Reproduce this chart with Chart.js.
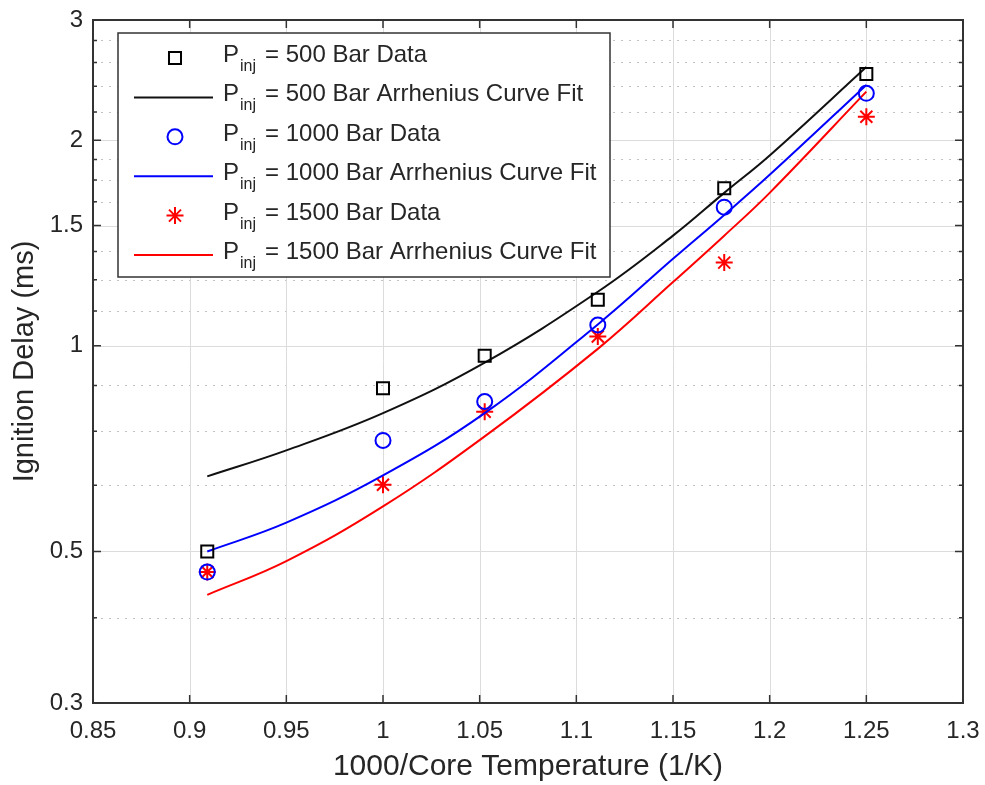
<!DOCTYPE html>
<html>
<head>
<meta charset="utf-8">
<script src="https://cdn.jsdelivr.net/npm/chart.js@4.4.0/dist/chart.umd.min.js"></script>
<style>
    html, body { margin: 0; padding: 0; background: #fff; }
    #wrap { width: 985px; height: 785px; }
</style>
</head>
<body>
<div id="wrap"><canvas id="myChart" width="985" height="785"></canvas></div>
<script>
// measured data (x = 1000/T)
var dataX = [0.9091, 1.0, 1.0526, 1.1111, 1.1765, 1.25];
var data500 = [0.500, 0.867, 0.967, 1.168, 1.701, 2.50];
var data1000 = [0.4665, 0.727, 0.829, 1.073, 1.596, 2.343];
var data1500 = [0.4665, 0.626, 0.801, 1.032, 1.324, 2.165];

// curve fits
var fitX = [0.9091, 0.95, 1.0, 1.0526, 1.1111, 1.15, 1.1765, 1.2, 1.25];
var fit500 = [0.644, 0.703, 0.797, 0.945, 1.20, 1.45, 1.675, 1.90, 2.56];
var fit1000 = [0.500, 0.551, 0.646, 0.797, 1.075, 1.341, 1.555, 1.78, 2.41];
var fit1500 = [0.432, 0.484, 0.582, 0.737, 0.990, 1.24, 1.45, 1.675, 2.356];

// axes
var xTicks = [0.85, 0.9, 0.95, 1.0, 1.05, 1.1, 1.15, 1.2, 1.25, 1.3];
var xTickLabels = ['0.85', '0.9', '0.95', '1', '1.05', '1.1', '1.15', '1.2', '1.25', '1.3'];
var yTicks = [0.3, 0.5, 1, 1.5, 2, 3];
var yTickLabels = ['0.3', '0.5', '1', '1.5', '2', '3'];
var yMinorTicks = [0.4, 0.625, 0.75, 0.875, 1.125, 1.25, 1.375, 1.625, 1.75, 1.875, 2.2, 2.4, 2.6, 2.8];

var legendLabels = [
    '= 500 Bar Data',
    '= 500 Bar Arrhenius Curve Fit',
    '= 1000 Bar Data',
    '= 1000 Bar Arrhenius Curve Fit',
    '= 1500 Bar Data',
    '= 1500 Bar Arrhenius Curve Fit'
];

var FONT = '"Liberation Sans", Arial, Helvetica, sans-serif';
var TEXT = '#262626';

function pts(xs, ys) {
    return xs.map(function(x, i) { return { x: x, y: ys[i] }; });
}

// grid, frame and inward ticks
var framePlugin = {
    id: 'frame',
    beforeDatasetsDraw: function(chart) {
        var ctx = chart.ctx, a = chart.chartArea;
        var xs = chart.scales.x, ys = chart.scales.y;
        ctx.save();
        ctx.lineWidth = 1;
        // minor dotted
        ctx.strokeStyle = '#c0c0c0';
        ctx.setLineDash([2, 6]);
        yMinorTicks.forEach(function(v) {
            var y = Math.round(ys.getPixelForValue(v)) + 0.5;
            ctx.beginPath(); ctx.moveTo(a.left, y); ctx.lineTo(a.right, y); ctx.stroke();
        });
        // major solid
        ctx.setLineDash([]);
        ctx.strokeStyle = '#dcdcdc';
        yTicks.forEach(function(v) {
            var y = Math.round(ys.getPixelForValue(v)) + 0.5;
            ctx.beginPath(); ctx.moveTo(a.left, y); ctx.lineTo(a.right, y); ctx.stroke();
        });
        xTicks.forEach(function(v) {
            var x = Math.round(xs.getPixelForValue(v)) + 0.5;
            ctx.beginPath(); ctx.moveTo(x, a.top); ctx.lineTo(x, a.bottom); ctx.stroke();
        });
        ctx.restore();
    },
    afterDatasetsDraw: function(chart) {
        var ctx = chart.ctx, a = chart.chartArea;
        var xs = chart.scales.x, ys = chart.scales.y;
        ctx.save();
        ctx.strokeStyle = '#333';
        ctx.lineWidth = 2;
        ctx.strokeRect(a.left, a.top, a.right - a.left, a.bottom - a.top);
        ctx.lineWidth = 1.5;
        ctx.beginPath();
        xTicks.forEach(function(v) {
            var x = xs.getPixelForValue(v);
            ctx.moveTo(x, a.bottom); ctx.lineTo(x, a.bottom - 8);
            ctx.moveTo(x, a.top); ctx.lineTo(x, a.top + 8);
        });
        yTicks.forEach(function(v) {
            var y = ys.getPixelForValue(v);
            ctx.moveTo(a.left, y); ctx.lineTo(a.left + 8, y);
            ctx.moveTo(a.right, y); ctx.lineTo(a.right - 8, y);
        });
        yMinorTicks.forEach(function(v) {
            var y = ys.getPixelForValue(v);
            ctx.moveTo(a.left, y); ctx.lineTo(a.left + 4, y);
            ctx.moveTo(a.right, y); ctx.lineTo(a.right - 4, y);
        });
        ctx.stroke();
        ctx.restore();
    }
};

// legend with subscripts
var legendPlugin = {
    id: 'pinjLegend',
    afterDraw: function(chart) {
        var ctx = chart.ctx;
        var box = { x: 118, y: 33, w: 492, h: 244 };
        ctx.save();
        ctx.fillStyle = '#fff';
        ctx.fillRect(box.x, box.y, box.w, box.h);
        ctx.strokeStyle = '#333';
        ctx.lineWidth = 1.5;
        ctx.strokeRect(box.x, box.y, box.w, box.h);

        chart.data.datasets.forEach(function(ds, i) {
            var rowY = 58 + i * 39.4;
            ctx.strokeStyle = ds.borderColor;
            if (ds.showLine) {
                ctx.lineWidth = ds.borderWidth;
                ctx.beginPath(); ctx.moveTo(134, rowY); ctx.lineTo(213, rowY); ctx.stroke();
            } else {
                ctx.fillStyle = 'rgba(0,0,0,0)';
                ctx.lineWidth = ds.pointBorderWidth;
                Chart.helpers.drawPoint(ctx, {
                    pointStyle: ds.pointStyle,
                    radius: ds.pointRadius,
                    borderWidth: ds.pointBorderWidth,
                    rotation: 0
                }, 175, rowY);
            }
            ctx.fillStyle = TEXT;
            ctx.textAlign = 'left';
            ctx.textBaseline = 'alphabetic';
            ctx.font = '24px ' + FONT;
            ctx.fillText('P', 223, rowY + 4);
            ctx.font = '16px ' + FONT;
            ctx.fillText('inj', 240, rowY + 13);
            ctx.font = '24px ' + FONT;
            ctx.fillText(legendLabels[i], 265, rowY + 4);
        });
        ctx.restore();
    }
};

var ctx = document.getElementById('myChart').getContext('2d');
var myChart = new Chart(ctx, {
    type: 'scatter',
    data: {
        datasets: [{
            label: legendLabels[0],
            data: pts(dataX, data500),
            showLine: false,
            pointStyle: 'rect',
            pointRadius: 8.5,
            pointBorderWidth: 2,
            borderColor: '#000',
            backgroundColor: 'rgba(0,0,0,0)'
        }, {
            label: legendLabels[1],
            data: pts(fitX, fit500),
            showLine: true,
            pointRadius: 0,
            borderWidth: 2,
            borderColor: '#111',
            tension: 0.4
        }, {
            label: legendLabels[2],
            data: pts(dataX, data1000),
            showLine: false,
            pointStyle: 'circle',
            pointRadius: 7.5,
            pointBorderWidth: 2,
            borderColor: '#0000ff',
            backgroundColor: 'rgba(0,0,0,0)'
        }, {
            label: legendLabels[3],
            data: pts(fitX, fit1000),
            showLine: true,
            pointRadius: 0,
            borderWidth: 2,
            borderColor: '#0000ff',
            tension: 0.4
        }, {
            label: legendLabels[4],
            data: pts(dataX, data1500),
            showLine: false,
            pointStyle: 'star',
            pointRadius: 8.5,
            pointBorderWidth: 2,
            borderColor: '#ff0000',
            backgroundColor: 'rgba(0,0,0,0)'
        }, {
            label: legendLabels[5],
            data: pts(fitX, fit1500),
            showLine: true,
            pointRadius: 0,
            borderWidth: 2,
            borderColor: '#ff0000',
            tension: 0.4
        }]
    },
    options: {
        responsive: false,
        animation: false,
        devicePixelRatio: 1,
        layout: { padding: { top: 20, right: 22, left: 0, bottom: 0 } },
        plugins: {
            legend: { display: false },
            tooltip: { enabled: false }
        },
        scales: {
            x: {
                type: 'linear',
                min: 0.85,
                max: 1.3,
                afterBuildTicks: function(scale) {
                    scale.ticks = xTicks.map(function(v) { return { value: v }; });
                },
                afterFit: function(scale) {
                    scale.height = 82;
                    scale.paddingLeft = 0;
                    scale.paddingRight = 0;
                },
                ticks: {
                    padding: 14,
                    color: TEXT,
                    font: { family: FONT, size: 24 },
                    maxRotation: 0,
                    autoSkip: false,
                    callback: function(value, index) { return xTickLabels[index]; }
                },
                grid: { display: false, drawTicks: false, tickLength: 0 },
                border: { display: false },
                title: {
                    display: true,
                    text: '1000/Core Temperature (1/K)',
                    color: TEXT,
                    font: { family: FONT, size: 30 },
                    padding: { top: 0, bottom: 0 }
                }
            },
            y: {
                type: 'logarithmic',
                min: 0.3,
                max: 3,
                afterBuildTicks: function(scale) {
                    scale.ticks = yTicks.map(function(v) { return { value: v }; });
                },
                afterFit: function(scale) {
                    scale.width = 93;
                    scale.paddingTop = 0;
                    scale.paddingBottom = 0;
                },
                ticks: {
                    padding: 10,
                    color: TEXT,
                    font: { family: FONT, size: 24 },
                    autoSkip: false,
                    callback: function(value, index) { return yTickLabels[index]; }
                },
                grid: { display: false, drawTicks: false, tickLength: 0 },
                border: { display: false },
                title: {
                    display: true,
                    text: 'Ignition Delay (ms)',
                    color: TEXT,
                    font: { family: FONT, size: 29 },
                    padding: { top: 8, bottom: 0 }
                }
            }
        }
    },
    plugins: [framePlugin, legendPlugin]
});
</script>
</body>
</html>
